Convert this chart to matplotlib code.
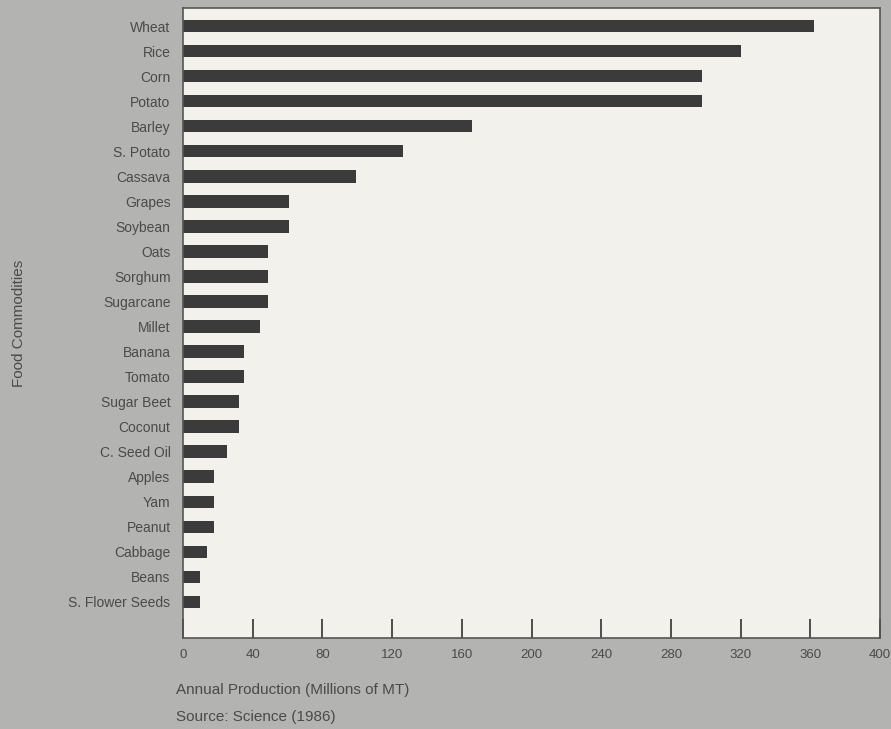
import numpy as np
import matplotlib.pyplot as plt

# data
foods = ['Wheat', 'Rice', 'Corn', 'Potato', 'Barley', 'S. Potato', 'Cassava',
         'Grapes', 'Soybean', 'Oats', 'Sorghum', 'Sugarcane', 'Millet',
         'Banana', 'Tomato', 'Sugar Beet', 'Coconut', 'C. Seed Oil',
         'Apples', 'Yam', 'Peanut', 'Cabbage', 'Beans', 'S. Flower Seeds']
production = [362, 320, 298, 298, 166, 126, 99,
              61, 61, 49, 49, 49, 44,
              35, 35, 32, 32, 25,
              18, 18, 18, 14, 10, 10]
xticks = [0, 40, 80, 120, 160, 200, 240, 280, 320, 360, 400]

plt.rcParams['font.family'] = ['Liberation Sans', 'DejaVu Sans']
txt = '#4a4a4a'

fig = plt.figure(figsize=(8.91, 7.29), dpi=100, facecolor='#b3b3b1')
ax = fig.add_axes([183 / 891, 1 - 638 / 729, (880 - 183) / 891, (638 - 8) / 729])
ax.set_facecolor('#f3f1ec')

y = np.arange(len(foods))
ax.barh(y, production, height=0.5, color='#3b3b3b')
ax.set_xlim(0, 400)
ax.set_ylim(len(foods) - 1 + 1.44, -0.72)

ax.set_yticks(y)
ax.set_yticklabels(foods, fontsize=10, color=txt)
ax.tick_params(axis='y', length=0, pad=9)
ax.set_xticks(xticks)
ax.set_xticklabels([str(t) for t in xticks], fontsize=9.5, color=txt)
ax.tick_params(axis='x', direction='in', length=14, width=1.2, color='#333333', pad=8)

for s in ax.spines.values():
    s.set_color('#555555')
    s.set_linewidth(1.2)

ax.set_ylabel('Food Commodities', fontsize=11, color=txt)
ax.yaxis.set_label_coords(-157 / 697, 0.5)

fig.text(176 / 891, 1 - 690 / 729, 'Annual Production (Millions of MT)',
         fontsize=11, color=txt, va='center')
fig.text(176 / 891, 1 - 717 / 729, 'Source: Science (1986)',
         fontsize=11, color=txt, va='center')

plt.savefig('out.png', dpi=100, facecolor=fig.get_facecolor())
